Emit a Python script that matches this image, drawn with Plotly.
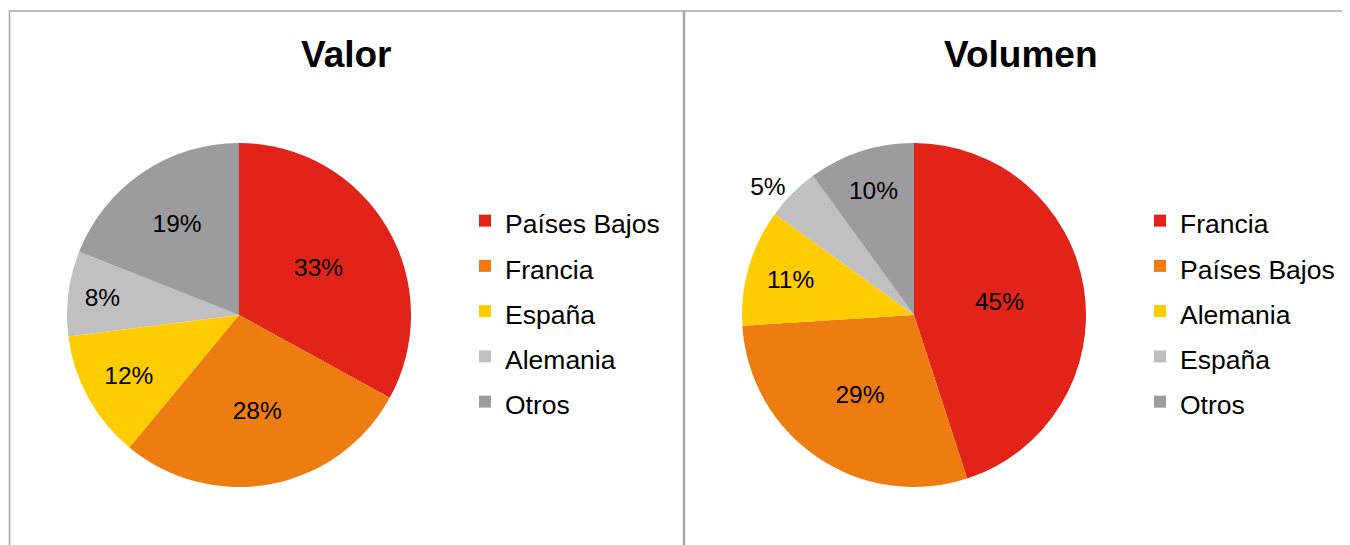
import plotly.graph_objects as go

# Datos
paises_valor = ['Países Bajos', 'Francia', 'España', 'Alemania', 'Otros']
valor = [33, 28, 12, 8, 19]

paises_volumen = ['Francia', 'Países Bajos', 'Alemania', 'España', 'Otros']
volumen = [45, 29, 11, 5, 10]

colores = ['#E2231A', '#EE7D11', '#FFCC00', '#C1C0C1', '#9C9B9D']

W, H = 1350, 545
OFF = 8  # margen del body de la página
FUENTE = 'Liberation Sans, Arial, sans-serif'


def px(x):
    return (x - OFF) / W


def py(y):
    return 1 - (y - OFF) / H


def etiqueta(texto, estilo):
    # texto más pequeño que la fuente de la leyenda, para separar más las filas.
    # el estilo distinto evita que plotly junte etiquetas iguales de ambos pies
    return f'<span style="{estilo}">{texto}</span>'


fig = go.Figure()

fig.add_trace(go.Pie(
    labels=[etiqueta(p, 'font-size:26.5px') for p in paises_valor],
    values=valor,
    sort=False,
    direction='clockwise',
    rotation=0,
    marker=dict(colors=colores),
    textinfo='percent',
    textposition='inside',
    insidetextorientation='horizontal',
    textfont=dict(size=24.5, color='black', family=FUENTE),
    domain=dict(x=[px(67), px(411)], y=[py(487), py(143)]),
    legend='legend',
))

fig.add_trace(go.Pie(
    labels=[etiqueta(p, 'font-size: 26.5px') for p in paises_volumen],
    values=volumen,
    sort=False,
    direction='clockwise',
    rotation=0,
    marker=dict(colors=colores),
    textinfo='percent',
    textposition=['inside', 'inside', 'inside', 'outside', 'inside'],
    insidetextorientation='horizontal',
    textfont=dict(size=24.5, color='black', family=FUENTE),
    outsidetextfont=dict(size=24.5, color='black', family=FUENTE),
    domain=dict(x=[px(742), px(1086)], y=[py(487), py(143)]),
    legend='legend2',
))

leyenda = dict(
    font=dict(size=32.5, color='black', family=FUENTE),
    xanchor='left', yanchor='top',
    bgcolor='rgba(0,0,0,0)',
    traceorder='normal',
)

fig.update_layout(
    width=W, height=H,
    margin=dict(l=0, r=0, t=0, b=0),
    paper_bgcolor='white',
    plot_bgcolor='white',
    font=dict(family=FUENTE, color='black'),
    showlegend=True,
    legend=dict(leyenda, x=px(465), y=py(193)),
    legend2=dict(leyenda, x=px(1140), y=py(193)),
    annotations=[
        dict(text='<b>Valor</b>', x=px(346), y=py(54), xref='paper', yref='paper',
             xanchor='center', yanchor='middle',
             showarrow=False, font=dict(size=37, family=FUENTE)),
        dict(text='<b>Volumen</b>', x=px(1021), y=py(54), xref='paper', yref='paper',
             xanchor='center', yanchor='middle',
             showarrow=False, font=dict(size=37, family=FUENTE)),
    ],
    shapes=[
        dict(type='rect', xref='paper', yref='paper', x0=px(9.5), x1=px(683.5),
             y0=-0.1, y1=py(11), line=dict(color='#A6A6A6', width=1.5)),
        dict(type='rect', xref='paper', yref='paper', x0=px(684.5), x1=1.1,
             y0=-0.1, y1=py(11), line=dict(color='#A6A6A6', width=1.5)),
    ],
)

fig.write_html('out.html')
